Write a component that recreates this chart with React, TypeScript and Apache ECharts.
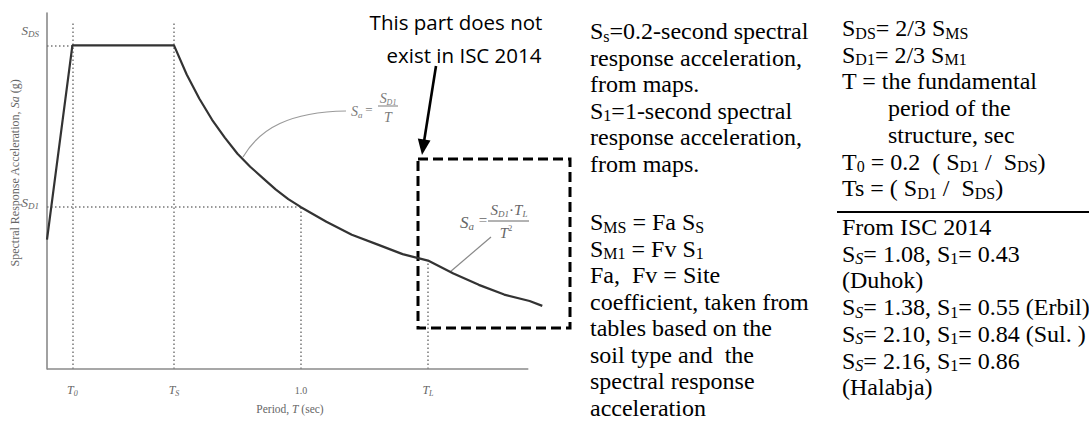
import React, { useEffect, useRef } from "react";
import * as echarts from "echarts";

// ---- Data (T in s, Sa in units of S_D1) ----
const periods = [0, 0.1, 0.5, 0.55, 0.6, 0.65, 0.7, 0.75, 0.8, 0.85, 0.9, 0.95, 1.0, 1.1, 1.2, 1.3, 1.4, 1.5, 1.6, 1.7, 1.8, 1.9, 1.95];
const spectralAcc = [0.8, 2.0, 2.0, 1.82, 1.67, 1.54, 1.43, 1.33, 1.25, 1.18, 1.11, 1.05, 1.0, 0.91, 0.83, 0.77, 0.71, 0.67, 0.59, 0.52, 0.46, 0.42, 0.39];

const T0 = 0.1;
const TS = 0.5;
const T1 = 1.0;
const TL = 1.5;
const SDS = 2.0;
const SD1 = 1.0;
const SA_AT_TL = 0.67;
const GUIDE_TOP = 2.14;
const X_AXIS_END = 1.895;
const X_MAX = 1.95;
const Y_MAX = 2.2;

const xTickValues = [T0, TS, T1, TL];
const xTickLabels = ["{t|T}{sub|0}", "{t|T}{sub|S}", "{n|1.0}", "{t|T}{sub|L}"];
const yTickValues = [SD1, SDS];
const yTickLabels = ["{s|S}{d|D1}\n{g1| }", "{s|S}{d|DS}\n{g2| }"];

// vertical guides: [T, topSa]; horizontal guides: [Sa, rightT]
const guideVertical = [[T0, GUIDE_TOP], [TS, GUIDE_TOP], [T1, SD1], [TL, SA_AT_TL]];
const guideHorizontal = [[SDS, T0], [SD1, T1]];

const noteLines1 = [
  "{m|S}{s|s}{m|=0.2-second spectral}",
  "{m|response acceleration,}",
  "{m|from maps.}",
  "{m|S}{s|1}{m|=1-second spectral}",
  "{m|response acceleration,}",
  "{m|from maps.}",
];
const noteLines2 = [
  "{m|S}{s|MS}{m| = Fa S}{s|S}",
  "{m|S}{s|M1}{m| = Fv S}{s|1}",
  "{m|Fa,  Fv = Site}",
  "{m|coefficient, taken from}",
  "{m|tables based on the}",
  "{m|soil type and  the}",
  "{m|spectral response}",
  "{m|acceleration}",
];
const noteLines3 = [
  "{m|S}{s|DS}{m|= 2/3 S}{s|MS}",
  "{m|S}{s|D1}{m|= 2/3 S}{s|M1}",
  "{m|T = the fundamental}",
  "{m|period of the}",
  "{m|structure, sec}",
  "{m|T}{s|0}{m| = 0.2  ( S}{s|D1}{m| /  S}{s|DS}{m|)}",
  "{m|Ts = ( S}{s|D1}{m| /  S}{s|DS}{m|)}",
];
const noteIndent3 = [0, 0, 0, 1, 1, 0, 0];
const noteLines4 = [
  "{m|From ISC 2014}",
  "{m|S}{si|S}{m|= 1.08, S}{s|1}{m|= 0.43}",
  "{m|(Duhok)}",
  "{m|S}{si|S}{m|= 1.38, S}{s|1}{m|= 0.55 (Erbil)}",
  "{m|S}{si|S}{m|= 2.10, S}{s|1}{m|= 0.84 (Sul. )}",
  "{m|S}{si|S}{m|= 2.16, S}{s|1}{m|= 0.86}",
  "{m|(Halabja)}",
];

const SERIF = "'Liberation Serif', 'Times New Roman', serif";
const SANS = "'Open Sans', 'Noto Sans', sans-serif";
const AXIS_GRAY = "#666";

const noteRich = {
  m: { fontFamily: SERIF, fontSize: 24, lineHeight: 26, fill: "#000", color: "#000" },
  s: { fontFamily: SERIF, fontSize: 16, lineHeight: 12, verticalAlign: "bottom", fill: "#000", color: "#000" },
  si: { fontFamily: SERIF, fontSize: 16, fontStyle: "italic", lineHeight: 12, verticalAlign: "bottom", fill: "#000", color: "#000" },
};

function noteBlock(lines: string[], x: number, y0: number, step: number, indent?: number[]) {
  return lines.map((t, i) => ({
    type: "text",
    x: x + (indent && indent[i] ? 46 : 0),
    y: y0 + i * step,
    style: { text: t, rich: noteRich, align: "left", verticalAlign: "middle", fontFamily: SERIF, fontSize: 24, fill: "#000" },
  }));
}

function fRich(color: string, size: number) {
  return {
    i: { fontFamily: SERIF, fontStyle: "italic", fontSize: size, lineHeight: size + 2, fill: color, color },
    n: { fontFamily: SERIF, fontSize: size, lineHeight: size + 2, fill: color, color },
    d: { fontFamily: SERIF, fontStyle: "italic", fontSize: Math.round(size * 0.6), lineHeight: Math.round(size * 0.5), verticalAlign: "bottom", fill: color, color },
    a: { fontFamily: SERIF, fontStyle: "italic", fontSize: Math.round(size * 0.65), lineHeight: Math.round(size * 0.5), verticalAlign: "bottom", fill: color, color },
    sup: { fontFamily: SERIF, fontSize: Math.round(size * 0.55), lineHeight: Math.round(size * 0.5), verticalAlign: "top", fill: color, color },
  };
}

function ftext(text: string, x: number, y: number, color: string, size: number, align = "center") {
  return {
    type: "text",
    x,
    y,
    style: { text, rich: fRich(color, size), align, verticalAlign: "middle", fontFamily: SERIF, fontSize: size, fill: color },
  };
}

function buildOption() {
  const guideData: any[] = [];
  guideVertical.forEach(([t, top]) => guideData.push([{ coord: [t, 0] }, { coord: [t, top] }]));
  guideHorizontal.forEach(([sa, right]) => guideData.push([{ coord: [0, sa] }, { coord: [right, sa] }]));

  const f1 = "#7a7a7a";
  const f2 = "#666";

  const graphic: any[] = [
    // y axis title
    {
      type: "text",
      x: 15,
      y: 173,
      rotation: Math.PI / 2,
      style: {
        text: "{n|Spectral Response Acceleration, }{i|Sa}{n| (g)}",
        rich: {
          n: { fontFamily: SERIF, fontSize: 12, fill: AXIS_GRAY, color: AXIS_GRAY },
          i: { fontFamily: SERIF, fontSize: 12, fontStyle: "italic", fill: AXIS_GRAY, color: AXIS_GRAY },
        },
        align: "center",
        verticalAlign: "middle",
      },
    },
    // x axis title
    {
      type: "text",
      x: 290,
      y: 409,
      style: {
        text: "{n|Period, }{i|T}{n| (sec)}",
        rich: {
          n: { fontFamily: SERIF, fontSize: 11.5, fill: AXIS_GRAY, color: AXIS_GRAY },
          i: { fontFamily: SERIF, fontSize: 11.5, fontStyle: "italic", fill: AXIS_GRAY, color: AXIS_GRAY },
        },
        align: "center",
        verticalAlign: "middle",
      },
    },
    // formula 1 and its leader
    {
      type: "bezierCurve",
      shape: { x1: 243, y1: 157, cpx1: 260, cpy1: 128, cpx2: 290, cpy2: 112, x2: 346, y2: 111 },
      style: { stroke: "#9a9a9a", lineWidth: 1.2, fill: "none" },
    },
    ftext("{i|S}{a|a}", 351, 111, f1, 14, "left"),
    ftext("{n|=}", 369, 109, f1, 13),
    ftext("{i|S}{d|D1}", 388, 98, f1, 14),
    { type: "line", shape: { x1: 378, y1: 106, x2: 398, y2: 106 }, style: { stroke: f1, lineWidth: 1 } },
    ftext("{i|T}", 388, 117, f1, 14),
    // formula 2 and its leader
    { type: "line", shape: { x1: 450, y1: 272, x2: 491, y2: 237 }, style: { stroke: "#888", lineWidth: 1.2 } },
    ftext("{i|S}{a|a}", 460, 222, f2, 17, "left"),
    ftext("{n|=}", 483, 220, f2, 15),
    ftext("{i|S}{d|D1}{n|·}{i|T}{d|L}", 509, 210, f2, 15),
    { type: "line", shape: { x1: 488, y1: 221, x2: 529, y2: 221 }, style: { stroke: f2, lineWidth: 1 } },
    ftext("{i|T}{sup|2}", 506, 233, f2, 15),
    // dashed box
    {
      type: "rect",
      shape: { x: 418, y: 159, width: 152, height: 169 },
      style: { fill: "none", stroke: "#000", lineWidth: 3, lineDash: [10, 5] },
    },
    // arrow
    { type: "line", shape: { x1: 436, y1: 66, x2: 424.2, y2: 140.5 }, style: { stroke: "#000", lineWidth: 2.6 } },
    {
      type: "polygon",
      shape: { points: [[422, 155], [430.5, 140.5], [417.8, 138.5]] },
      style: { fill: "#000" },
    },
    // callout text
    {
      type: "text",
      x: 456,
      y: 22,
      style: { text: "This part does not", fontFamily: SANS, fontSize: 20.5, fill: "#000", align: "center", verticalAlign: "middle" },
    },
    {
      type: "text",
      x: 464,
      y: 55,
      style: { text: "exist in ISC 2014", fontFamily: SANS, fontSize: 20.5, fill: "#000", align: "center", verticalAlign: "middle" },
    },
    // notes
    ...noteBlock(noteLines1, 590, 31, 26.6),
    ...noteBlock(noteLines2, 590, 222, 26.5),
    ...noteBlock(noteLines3, 842, 28, 26.7, noteIndent3),
    { type: "line", shape: { x1: 837, y1: 212, x2: 1089, y2: 212 }, style: { stroke: "#000", lineWidth: 2 } },
    ...noteBlock(noteLines4, 842, 227, 26.7),
  ];

  return {
    animation: false,
    backgroundColor: "#fff",
    grid: { left: 47, top: 13, width: X_MAX * 254, height: 356, containLabel: false, outerBoundsMode: "none" },
    xAxis: {
      type: "value",
      min: 0,
      max: X_MAX,
      axisLine: { show: false },
      axisTick: { show: false },
      splitLine: { show: false },
      axisLabel: {
        customValues: xTickValues,
        margin: 14,
        formatter: (v: number) => {
          const i = xTickValues.findIndex((t) => Math.abs(t - v) < 1e-6);
          return i >= 0 ? xTickLabels[i] : "";
        },
        rich: {
          t: { fontFamily: SERIF, fontStyle: "italic", fontSize: 12, lineHeight: 14, color: AXIS_GRAY },
          sub: { fontFamily: SERIF, fontStyle: "italic", fontSize: 8, lineHeight: 6, verticalAlign: "bottom", color: AXIS_GRAY },
          n: { fontFamily: SERIF, fontSize: 10, lineHeight: 14, color: AXIS_GRAY },
        },
      },
    },
    yAxis: {
      type: "value",
      min: 0,
      max: Y_MAX,
      axisLine: { show: true, lineStyle: { color: "#8a8a8a", width: 1.6 } },
      axisTick: { show: false },
      splitLine: { show: false },
      axisLabel: {
        customValues: yTickValues,
        margin: 8,
        formatter: (v: number) => {
          const i = yTickValues.findIndex((t) => Math.abs(t - v) < 1e-6);
          return i >= 0 ? yTickLabels[i] : "";
        },
        rich: {
          s: { fontFamily: SERIF, fontStyle: "italic", fontSize: 13, lineHeight: 16, color: AXIS_GRAY },
          d: { fontFamily: SERIF, fontStyle: "italic", fontSize: 9, lineHeight: 12, verticalAlign: "bottom", color: AXIS_GRAY },
          g1: { fontSize: 4, lineHeight: 10 },
          g2: { fontSize: 4, lineHeight: 30 },
        },
      },
    },
    series: [
      {
        type: "line",
        name: "Design spectrum",
        data: periods.map((t, i) => [t, spectralAcc[i]]),
        showSymbol: false,
        clip: false,
        z: 5,
        lineStyle: { color: "#333", width: 2.2 },
        markLine: {
          silent: true,
          symbol: ["none", "none"],
          label: { show: false },
          lineStyle: { color: "#777", width: 1.5, type: [1.5, 2.5] },
          emphasis: { disabled: true },
          data: guideData,
        },
      },
      {
        type: "line",
        name: "x axis line",
        data: [],
        markLine: {
          silent: true,
          symbol: ["none", "none"],
          label: { show: false },
          lineStyle: { color: "#8a8a8a", width: 1.6, type: "solid" },
          emphasis: { disabled: true },
          data: [[{ coord: [0, 0] }, { coord: [X_AXIS_END, 0] }]],
        },
      },
    ],
    graphic,
  };
}

export default function App() {
  const ref = useRef<HTMLDivElement>(null);
  useEffect(() => {
    const chart = echarts.init(ref.current!, null, { renderer: "svg" });
    chart.setOption(buildOption() as any);
    return () => chart.dispose();
  }, []);
  return <div ref={ref} style={{ position: "absolute", left: 0, top: 0, width: 1089, height: 423 }} />;
}
